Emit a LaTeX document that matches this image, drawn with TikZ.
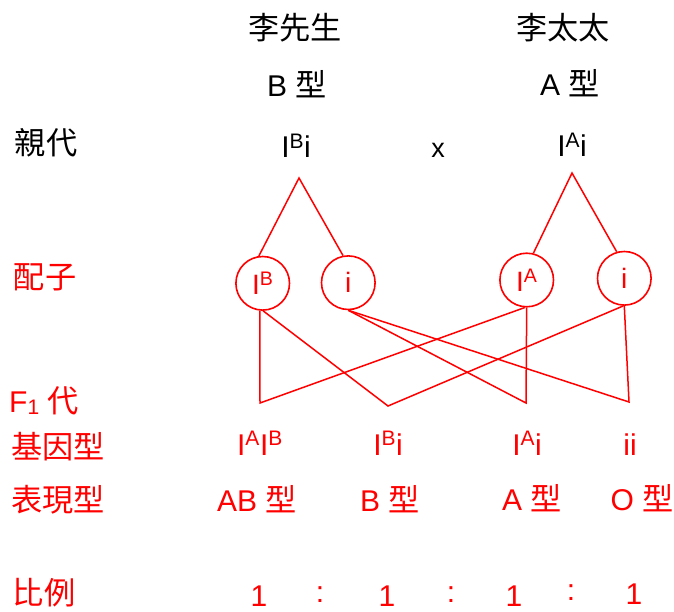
\documentclass[tikz,border=0pt]{standalone}
\usepackage{fontspec}
\setmainfont{Liberation Sans}
\newfontfamily\cjk[Scale=1.04]{Noto Sans CJK TC}
\begin{document}
\begin{tikzpicture}[x=1pt,y=-1pt,
  every node/.style={inner sep=0pt, font=\fontsize{30}{32}\selectfont},
  blk/.style={text=black},
  rd/.style={text=red},
  gam/.style={circle, draw=red, line width=1.6pt, minimum size=53.6pt, text=red, font=\fontsize{28}{30}\selectfont},
  link/.style={draw=red, line width=1.5pt}]
\useasboundingbox (0,0) rectangle (674,612);
% parents
\node[blk] (mr) at (295,28) {\cjk 李先生};
\node[blk] (mrs) at (563,28) {\cjk 李太太};
\node[blk, anchor=base] (mrT) at (297,97) {B {\cjk 型}};
\node[blk, anchor=base] (mrsT) at (570,96) {A {\cjk 型}};
\node[blk] (parL) at (46,143) {\cjk 親代};
\node[blk, anchor=base] (pB) at (296,158) {I\textsuperscript{B}i};
\node[blk] (cross) at (438,150) {\fontsize{27}{29}\selectfont x};
\node[blk, anchor=base] (pA) at (572,157) {I\textsuperscript{A}i};
\coordinate (pL) at (299,178);
\coordinate (pR) at (572,173);
% gametes
\node[rd] (gamL) at (45,277) {\cjk 配子};
\node[gam] (gB) at (262.7,283.3) {I\textsuperscript{B}};
\node[gam] (gi1) at (348.3,282.7) {i};
\node[gam] (gA) at (526.7,280) {I\textsuperscript{A}};
\node[gam] (gi2) at (624.3,278.3) {i};
\draw[link] (gB.98) -- (pL) -- (gi1.101);
\draw[link] (gA.76) -- (pR) -- (gi2.106);
% F1
\coordinate (f1) at (260,403);
\coordinate (f2) at (388,406);
\coordinate (f3) at (526,403);
\coordinate (f4) at (629,402);
\draw[link] (gB.264) -- (f1) -- (gA.266);
\draw[link] (gB.-89) -- (f2) -- (gi2.-92);
\draw[link] (gi1.south) -- (f3) -- (gA.south);
\draw[link] (gi1.south) -- (f4) -- (gi2.south);
% labels
\node[rd] (fL) at (44,401) {F\raisebox{-2pt}{\fontsize{21}{23}\selectfont 1} {\cjk 代}};
\node[rd] (genL) at (58,447) {\cjk 基因型};
\node[rd] (phL) at (58,500) {\cjk 表現型};
\node[rd] (ratL) at (44,593) {\cjk 比例};
% genotypes
\node[rd, anchor=base] (g1) at (260,455) {I\textsuperscript{A}I\textsuperscript{B}};
\node[rd, anchor=base] (g2) at (388,455) {I\textsuperscript{B}i};
\node[rd, anchor=base] (g3) at (527,455) {I\textsuperscript{A}i};
\node[rd, anchor=base] (g4) at (630,455) {ii};
% phenotypes
\node[rd, anchor=base] (h1) at (257,511) {AB {\cjk 型}};
\node[rd, anchor=base] (h2) at (390,511) {B {\cjk 型}};
\node[rd, anchor=base] (h3) at (532,510) {A {\cjk 型}};
\node[rd, anchor=base] (h4) at (642,510) {O {\cjk 型}};
% ratio
\node[rd, anchor=base] (r1) at (259,606) {1};
\node[rd, anchor=base] (c1) at (320,602) {:};
\node[rd, anchor=base] (r2) at (387,606) {1};
\node[rd, anchor=base] (c2) at (451,602) {:};
\node[rd, anchor=base] (r3) at (514,606) {1};
\node[rd, anchor=base] (c3) at (571,600) {:};
\node[rd, anchor=base] (r4) at (634,604) {1};
\end{tikzpicture}
\end{document}
